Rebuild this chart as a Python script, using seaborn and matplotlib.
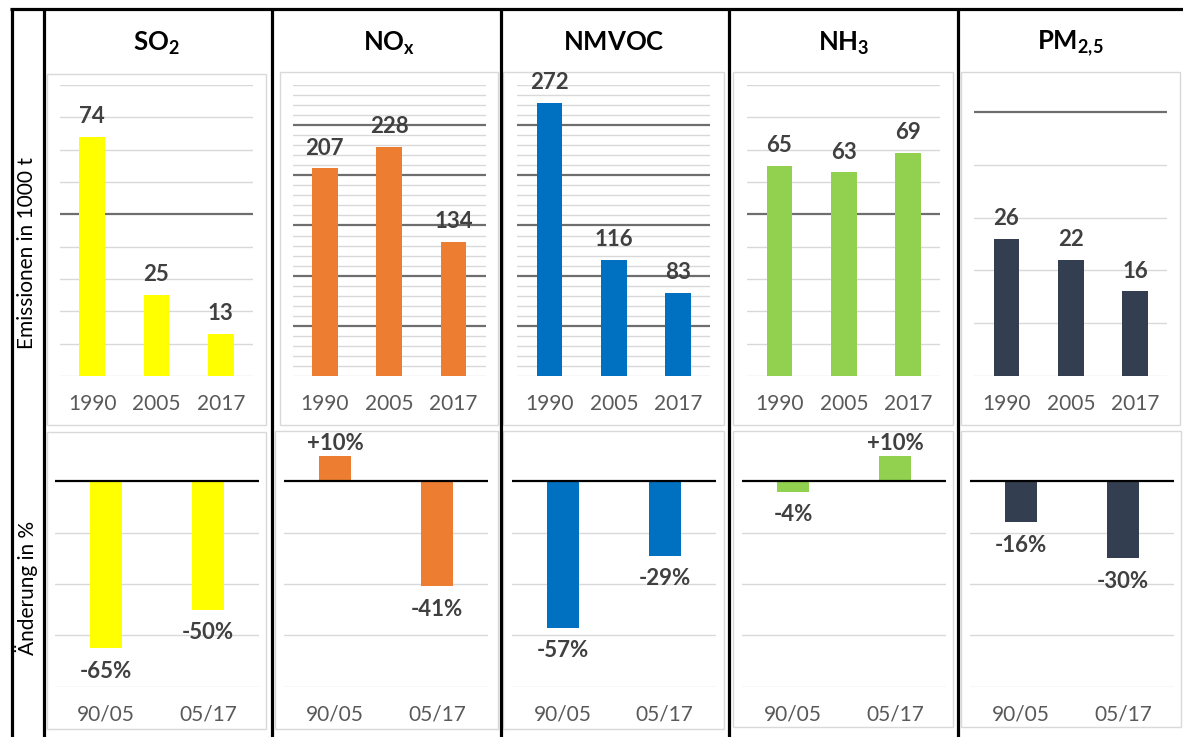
import matplotlib
matplotlib.use("Agg")
import matplotlib.pyplot as plt
from matplotlib.patches import Rectangle
from matplotlib.lines import Line2D
import seaborn as sns
import pandas as pd
import numpy as np

# ---------------- data ----------------
years = ["1990", "2005", "2017"]
periods = ["90/05", "05/17"]
titles = [r"$\mathbf{SO_2}$", r"$\mathbf{NO_x}$", r"$\mathbf{NMVOC}$",
          r"$\mathbf{NH_3}$", r"$\mathbf{PM_{2{,}5}}$"]
so2 = [74, 25, 13]
nox = [207, 228, 134]
nmvoc = [272, 116, 83]
nh3 = [65, 63, 69]
pm25 = [26, 22, 16]
so2_chg = [-65, -50]
nox_chg = [10, -41]
nmvoc_chg = [-57, -29]
nh3_chg = [-4, 10]
pm25_chg = [-16, -30]
colors = ["#FFFF00", "#ED7D31", "#0070C0", "#92D050", "#333F50"]
ylabel_top = "Emissionen in 1000 t"
ylabel_bottom = "Änderung in %"

emissions = [so2, nox, nmvoc, nh3, pm25]
changes = [so2_chg, nox_chg, nmvoc_chg, nh3_chg, pm25_chg]
# axis limits (ymax, last gridline)
limits = [(90, 90), (290, 290), (290, 290), (90, 90), (55.1, 50)]

# ---------------- style ----------------
sns.set_style("white")
plt.rcParams["font.family"] = ["Lato", "DejaVu Sans"]
plt.rcParams["mathtext.fontset"] = "custom"
plt.rcParams["mathtext.rm"] = "Lato"
plt.rcParams["mathtext.bf"] = "Lato:bold"
plt.rcParams["mathtext.it"] = "Lato:italic"

W, H = 1183, 737
fig = plt.figure(figsize=(W / 100, H / 100), dpi=100)
fig.patch.set_facecolor("white")


def axes_px(x0, y0, x1, y1):
    return fig.add_axes([x0 / W, 1 - y1 / H, (x1 - x0) / W, (y1 - y0) / H])


def rect_px(x0, y0, x1, y1, **kw):
    fig.add_artist(Rectangle((x0 / W, 1 - y1 / H), (x1 - x0) / W, (y1 - y0) / H,
                             transform=fig.transFigure, fill=False, **kw))


def line_px(x0, y0, x1, y1, **kw):
    fig.add_artist(Line2D([x0 / W, x1 / W], [1 - y0 / H, 1 - y1 / H],
                          transform=fig.transFigure, **kw))


top_lefts = [60, 292.7, 517.3, 747.3, 974.3]
bot_lefts = [55, 284.3, 511.7, 742.3, 970]
top_boxes = [(47, 74, 266, 425), (280, 72, 498, 425), (503, 72, 724, 425),
             (733, 72, 953, 425), (961, 72, 1180, 425)]
bot_boxes = [(47, 432, 266, 729), (275, 431, 498, 729), (503, 431, 724, 729),
             (733, 431, 953, 727), (961, 431, 1181, 727)]

light = "#D9D9D9"
dark = "#6E6E6E"
lab_col = "#404040"
tick_col = "#595959"
val_fs = 16
tick_fs = 15

for i in range(5):
    # panel frames
    rect_px(*top_boxes[i], edgecolor=light, linewidth=1.0, zorder=0)
    rect_px(*bot_boxes[i], edgecolor=light, linewidth=1.0, zorder=0)

    # ---------- top panel ----------
    ax = axes_px(top_lefts[i], 85, top_lefts[i] + 193, 376)
    df = pd.DataFrame({"Jahr": years, "Wert": emissions[i]})
    sns.barplot(data=df, x="Jahr", y="Wert", color=colors[i], saturation=1,
                width=0.4, linewidth=0, errorbar=None, ax=ax, zorder=3)
    ymax, gmax = limits[i]
    ax.set_ylim(0, ymax)
    ax.set_xlim(-0.5, 2.5)
    for v in np.arange(0, gmax + 1, 10):
        major = (v % 50 == 0) and v > 0
        ax.axhline(v, color=dark if major else light,
                   lw=1.6 if major else 1.0, zorder=1)
    for p, v in zip(ax.patches, emissions[i]):
        ax.annotate(f"{v}", (p.get_x() + p.get_width() / 2, p.get_height()),
                    xytext=(0, 7), textcoords="offset points", ha="center",
                    va="bottom", fontsize=val_fs, fontweight="bold",
                    color=lab_col, annotation_clip=False, zorder=5)
    ax.set_yticks([])
    ax.set_xlabel("")
    ax.set_ylabel("")
    ax.tick_params(axis="x", length=0, pad=13, labelsize=tick_fs,
                   labelcolor=tick_col)
    for s in ax.spines.values():
        s.set_visible(False)
    ax.set_facecolor("none")

    fig.text((top_lefts[i] + 96.5) / W, 1 - 43 / H, titles[i], ha="center",
             va="center", fontsize=18.5, color="black")

    # ---------- bottom panel ----------
    bx = axes_px(bot_lefts[i], 430, bot_lefts[i] + 204, 686.5)
    dfc = pd.DataFrame({"Zeitraum": periods, "Aenderung": changes[i]})
    sns.barplot(data=dfc, x="Zeitraum", y="Aenderung", color=colors[i],
                saturation=1, width=0.31, linewidth=0, errorbar=None, ax=bx,
                zorder=3)
    bx.set_ylim(-80, 20)
    bx.set_xlim(-0.5, 1.5)
    for v in [-80, -60, -40, -20]:
        bx.axhline(v, color=light, lw=1.0, zorder=1)
    bx.axhline(0, color="black", lw=1.6, zorder=4)
    for p, v in zip(bx.patches, changes[i]):
        if v < 0:
            y_end = min(p.get_y(), p.get_y() + p.get_height())
            off, va = -9, "top"
        else:
            y_end = max(p.get_y(), p.get_y() + p.get_height())
            off, va = 1, "bottom"
        bx.annotate(f"{v:+d}%", (p.get_x() + p.get_width() / 2, y_end),
                    xytext=(0, off), textcoords="offset points", ha="center",
                    va=va, fontsize=val_fs, fontweight="bold", color=lab_col,
                    annotation_clip=False, zorder=5)
    bx.set_yticks([])
    bx.set_xlabel("")
    bx.set_ylabel("")
    bx.tick_params(axis="x", length=0, pad=13, labelsize=tick_fs,
                   labelcolor=tick_col)
    for s in bx.spines.values():
        s.set_visible(False)
    bx.set_facecolor("none")

# row labels
fig.text(27 / W, 1 - 253 / H, ylabel_top, rotation=90, ha="center", va="center",
         fontsize=15, color="black")
fig.text(26 / W, 1 - 588 / H, ylabel_bottom, rotation=90, ha="center",
         va="center", fontsize=15, color="black")

# black table frame
lw_frame = 2.3
line_px(10, 8.5, W, 8.5, color="black", lw=lw_frame, solid_capstyle="butt")
for xv in [11.5, 43.5, 272.3, 500.8, 729.3, 957.5]:
    line_px(xv, 7.5, xv, H, color="black", lw=lw_frame, solid_capstyle="butt")

fig.savefig("out.png", dpi=100, facecolor="white")
